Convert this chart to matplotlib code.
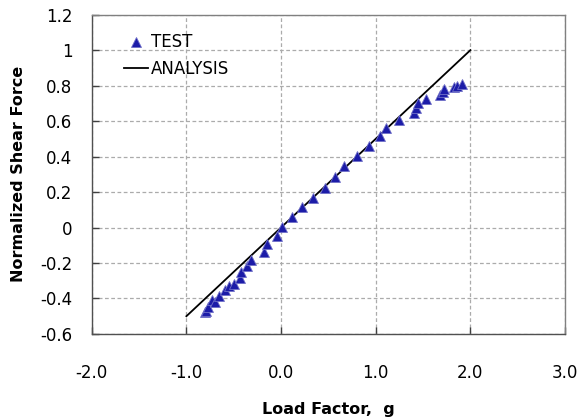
import matplotlib
matplotlib.use('Agg')
import matplotlib.pyplot as plt
import numpy as np

# test points (load factor g, normalized shear force)
test_g = [-0.800, -0.793, -0.772, -0.730, -0.702, -0.660, -0.597, -0.555,
          -0.502, -0.439, -0.421, -0.361, -0.316, -0.185, -0.151, -0.046,
          0.014, 0.116, 0.218, 0.334, 0.463, 0.565, 0.663, 0.797,
          0.926, 1.042, 1.112, 1.242, 1.400, 1.428, 1.445, 1.526,
          1.680, 1.708, 1.719, 1.832, 1.856, 1.913]
test_v = [-0.478, -0.469, -0.446, -0.407, -0.420, -0.388, -0.350, -0.332,
          -0.317, -0.285, -0.253, -0.215, -0.181, -0.140, -0.093, -0.046,
          0.003, 0.059, 0.113, 0.168, 0.222, 0.282, 0.348, 0.404,
          0.457, 0.516, 0.560, 0.607, 0.645, 0.673, 0.700, 0.724,
          0.748, 0.766, 0.780, 0.790, 0.800, 0.810]

analysis_g = [-1.0, 2.0]
analysis_v = [-0.5, 1.0]

x_ticks = [-2.0, -1.0, 0.0, 1.0, 2.0, 3.0]
y_ticks = [-0.6, -0.4, -0.2, 0, 0.2, 0.4, 0.6, 0.8, 1, 1.2]

fig = plt.figure(figsize=(5.88, 4.19), dpi=100)
ax = fig.add_axes([0.156, 0.203, 0.805, 0.762])

ax.plot(test_g, test_v, linestyle='none', marker='^', markersize=7,
        markerfacecolor='#1c1ca8', markeredgecolor='#7070c8', markeredgewidth=0.6,
        label='TEST', zorder=4)
ax.plot(analysis_g, analysis_v, color='black', linewidth=1.3, label='ANALYSIS', zorder=3)

ax.set_xlim(-2, 3)
ax.set_ylim(-0.6, 1.2)
ax.set_xticks(x_ticks)
ax.set_yticks(y_ticks)
ax.set_xticklabels([f"{t:.1f}" for t in x_ticks])
ax.set_yticklabels([f"{t:g}" for t in y_ticks])

ax.grid(True, color='#ababab', linestyle=(0, (3, 2)), linewidth=0.9)
ax.set_axisbelow(True)
ax.tick_params(direction='in', length=5, width=1, colors='#404040',
               labelcolor='black', labelsize=12)
ax.tick_params(axis='x', pad=22)
ax.tick_params(axis='y', pad=14)
for side, spine in ax.spines.items():
    spine.set_color('#808080' if side in ('top', 'right') else '#505050')
    spine.set_linewidth(1.0)

ax.set_xlabel('Load Factor,  g', fontsize=11.5, fontweight='bold')
ax.xaxis.set_label_coords(0.5, -0.212)
ax.set_ylabel('Normalized Shear Force', fontsize=11.5, fontweight='bold', labelpad=10)

ax.legend(loc='upper left', bbox_to_anchor=(0.055, 0.962), frameon=False,
          fontsize=12, handlelength=1.4, handletextpad=0.2, labelspacing=0.5,
          borderaxespad=0)

fig.savefig('out.png', dpi=100)
